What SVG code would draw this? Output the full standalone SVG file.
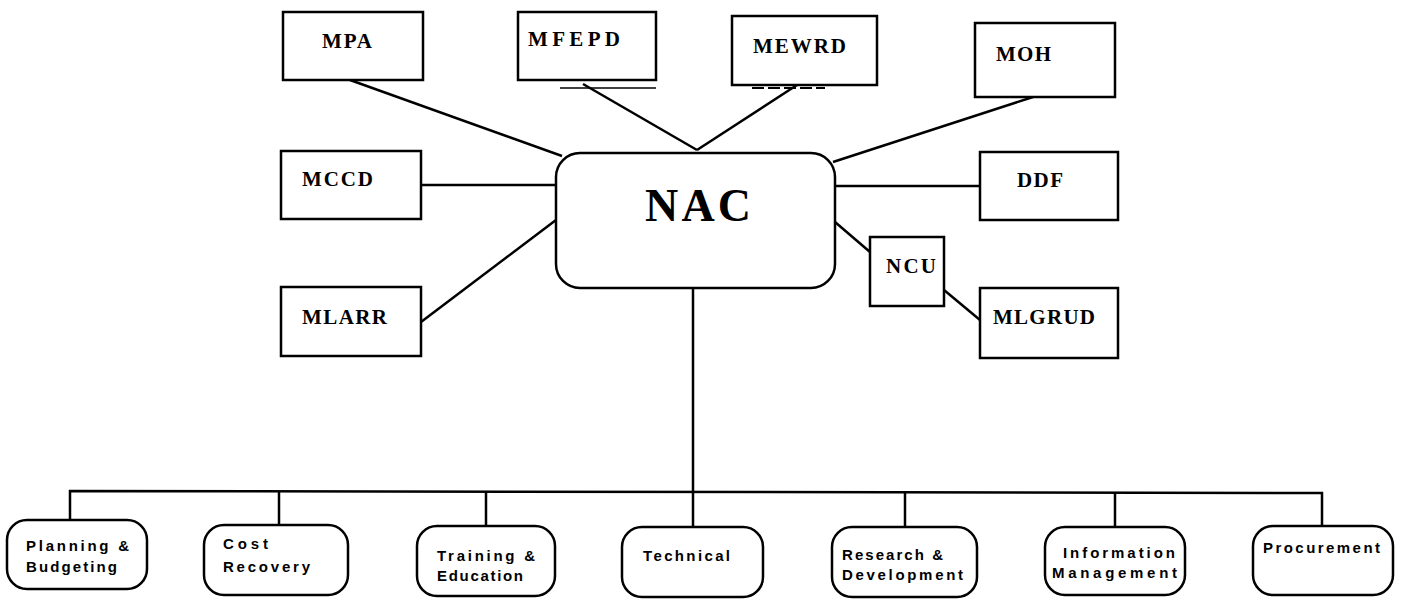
<svg xmlns="http://www.w3.org/2000/svg" width="1402" height="599" viewBox="0 0 1402 599">
<style>
.box{fill:#fff;stroke:#000;stroke-width:2.5}
.ln{fill:none;stroke:#000;stroke-width:2.5}
.t{font-family:"Liberation Serif",serif;font-weight:bold;font-size:21px;fill:#000}
.s{font-family:"Liberation Sans",Arial,sans-serif;font-weight:bold;font-size:15px;fill:#000}
</style>
<rect width="1402" height="599" fill="#fff"/>
<g id="connectors" class="ln">
<line x1="350" y1="80" x2="562" y2="156"/>
<line x1="583" y1="84" x2="697" y2="150"/>
<line x1="797" y1="85" x2="697" y2="150"/>
<line x1="1033" y1="97" x2="833" y2="162"/>
<line x1="421" y1="185" x2="556" y2="185"/>
<line x1="421" y1="322" x2="556" y2="220"/>
<line x1="835" y1="186" x2="980" y2="186"/>
<line x1="835" y1="222" x2="870" y2="252"/>
<line x1="944" y1="290" x2="980" y2="320"/>
<line x1="693" y1="288" x2="693" y2="492"/>
<polyline points="70,520 70,491 1322,493 1322,526"/>
<line x1="279" y1="491" x2="279" y2="525"/>
<line x1="486" y1="491" x2="486" y2="526"/>
<line x1="693" y1="492" x2="693" y2="527"/>
<line x1="905" y1="492" x2="905" y2="527"/>
<line x1="1115" y1="493" x2="1115" y2="527"/>
<line x1="560" y1="88" x2="656" y2="88" stroke-width="1.5"/>
<line x1="752" y1="88" x2="825" y2="88" stroke-width="2" stroke-dasharray="12,4"/>
</g>
<g id="MPA"><rect class="box" x="283" y="12" width="140" height="68"/><text class="t" x="322" y="48" textLength="50" lengthAdjust="spacing">MPA</text></g>
<g id="MFEPD"><rect class="box" x="518" y="12" width="138" height="68"/><text class="t" x="528" y="46" textLength="92" lengthAdjust="spacing">MFEPD</text></g>
<g id="MEWRD"><rect class="box" x="732" y="16" width="145" height="69"/><text class="t" x="753" y="53" textLength="93" lengthAdjust="spacing">MEWRD</text></g>
<g id="MOH"><rect class="box" x="975" y="23" width="140" height="74"/><text class="t" x="996" y="61" textLength="55" lengthAdjust="spacing">MOH</text></g>
<g id="MCCD"><rect class="box" x="281" y="151" width="140" height="68"/><text class="t" x="302" y="186" textLength="71" lengthAdjust="spacing">MCCD</text></g>
<g id="MLARR"><rect class="box" x="281" y="287" width="140" height="69"/><text class="t" x="302" y="324" textLength="85" lengthAdjust="spacing">MLARR</text></g>
<g id="NAC"><rect class="box" x="556" y="153" width="279" height="135" rx="24" ry="24"/><text x="645" y="221" font-family="Liberation Serif,serif" font-weight="bold" font-size="46" textLength="106" lengthAdjust="spacing">NAC</text></g>
<g id="DDF"><rect class="box" x="980" y="152" width="138" height="68"/><text class="t" x="1017" y="187" textLength="46" lengthAdjust="spacing">DDF</text></g>
<g id="NCU"><rect class="box" x="870" y="237" width="74" height="69"/><text class="t" x="886" y="273" textLength="50" lengthAdjust="spacing">NCU</text></g>
<g id="MLGRUD"><rect class="box" x="980" y="288" width="138" height="70"/><text class="t" x="993" y="324" textLength="102" lengthAdjust="spacing">MLGRUD</text></g>
<g id="planning"><rect class="box" x="7" y="520" width="140" height="69" rx="20"/><text class="s" x="26" y="551" textLength="103" lengthAdjust="spacing">Planning &amp;</text><text class="s" x="26" y="572" textLength="91" lengthAdjust="spacing">Budgeting</text></g>
<g id="cost"><rect class="box" x="204" y="525" width="144" height="70" rx="20"/><text class="s" x="223" y="549" textLength="45" lengthAdjust="spacing">Cost</text><text class="s" x="223" y="572" textLength="87" lengthAdjust="spacing">Recovery</text></g>
<g id="training"><rect class="box" x="417" y="526" width="138" height="70" rx="20"/><text class="s" x="437" y="561" textLength="98" lengthAdjust="spacing">Training &amp;</text><text class="s" x="437" y="581" textLength="86" lengthAdjust="spacing">Education</text></g>
<g id="technical"><rect class="box" x="622" y="527" width="141" height="70" rx="20"/><text class="s" x="643" y="561" textLength="87" lengthAdjust="spacing">Technical</text></g>
<g id="research"><rect class="box" x="832" y="527" width="145" height="70" rx="20"/><text class="s" x="842" y="560" textLength="101" lengthAdjust="spacing">Research &amp;</text><text class="s" x="842" y="580" textLength="121" lengthAdjust="spacing">Development</text></g>
<g id="information"><rect class="box" x="1045" y="527" width="140" height="68" rx="20"/><text class="s" x="1063" y="558" textLength="112" lengthAdjust="spacing">Information</text><text class="s" x="1052" y="578" textLength="125" lengthAdjust="spacing">Management</text></g>
<g id="procurement"><rect class="box" x="1253" y="526" width="140" height="69" rx="20"/><text class="s" x="1263" y="553" textLength="117" lengthAdjust="spacing">Procurement</text></g>
</svg>
